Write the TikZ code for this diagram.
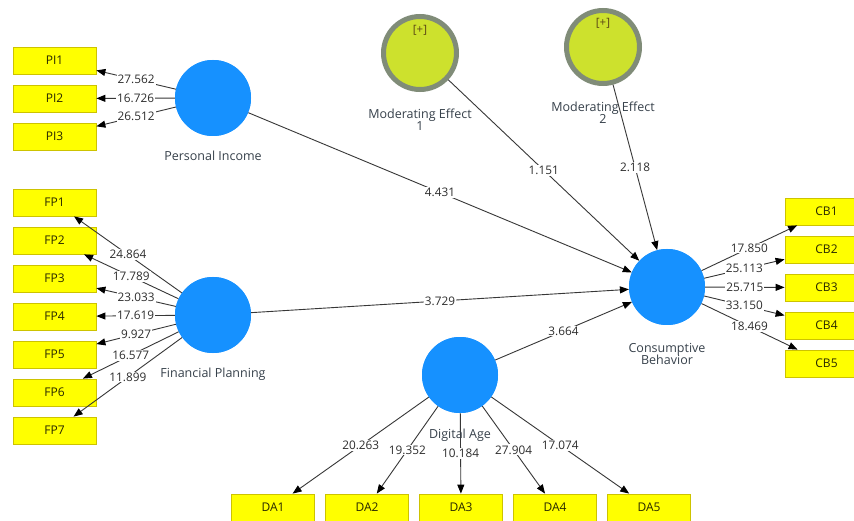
\documentclass[tikz,border=0pt]{standalone}
\usepackage{fontspec}
\setmainfont{Open Sans}
\usetikzlibrary{arrows.meta}
\definecolor{lvblue}{RGB}{22,145,255}
\definecolor{boxyellow}{RGB}{255,255,0}
\definecolor{boxedge}{RGB}{205,195,0}
\definecolor{modfill}{RGB}{205,225,45}
\definecolor{modring}{RGB}{128,140,120}
\definecolor{linegray}{RGB}{55,55,55}
\definecolor{labtext}{RGB}{55,65,75}
\definecolor{valtext}{RGB}{45,45,45}
\definecolor{indtext}{RGB}{40,40,0}
\definecolor{plustext}{RGB}{90,70,20}
\begin{document}
\begin{tikzpicture}[x=1pt,y=-1pt,
  lv/.style={circle,fill=lvblue,minimum size=76pt,inner sep=0pt},
  mod/.style={circle,fill=modfill,draw=modring,line width=5pt,minimum size=73pt,inner sep=0pt},
  ind/.style={rectangle,fill=boxyellow,draw=boxedge,line width=0.8pt,minimum width=83pt,minimum height=27pt,inner sep=0pt,font=\fontsize{12}{14}\selectfont,text=indtext},
  pth/.style={draw=linegray,line width=0.9pt,-{Triangle[length=9pt,width=7pt,color=black]}},
  val/.style={fill=white,inner sep=1pt,font=\fontsize{11.8}{14}\selectfont,text=valtext},
  lvname/.style={font=\fontsize{12.5}{14}\selectfont,text=labtext,align=center},
  plus/.style={font=\fontsize{11.5}{13}\selectfont,text=plustext},
]
\useasboundingbox (0,0) rectangle (854,521);
\clip (0,0) rectangle (854,521);
\fill[white] (0,0) rectangle (854,521);

% latent variables
\node[lv] (pi) at (213,98) {};
\node[lv] (fp) at (213,315) {};
\node[lv] (da) at (460,375) {};
\node[lv] (cb) at (667,287) {};
\node[mod] (me1) at (420,53) {};
\node[mod] (me2) at (603,47) {};

% indicators
\node[ind] (pi1) at (54.5,60.5) {PI1};
\node[ind] (pi2) at (54.5,98.5) {PI2};
\node[ind] (pi3) at (54.5,136.5) {PI3};
\foreach \i/\y in {1/202.5,2/240.5,3/278.5,4/316.5,5/354.5,6/392.5,7/430.5}
  \node[ind] (fp\i) at (54.5,\y) {FP\i};
\foreach \i/\y in {1/211.5,2/249.5,3/287.5,4/325.5,5/363.5}
  \node[ind] (cb\i) at (826.5,\y) {CB\i};
\foreach \i/\x in {1/273,2/367,3/461,4/555,5/649}
  \node[ind] (da\i) at (\x,507.5) {DA\i};

% outer loadings
\draw[pth] (pi) -- node[val] {27.562} (pi1);
\draw[pth] (pi) -- node[val] {16.726} (pi2);
\draw[pth] (pi) -- node[val] {26.512} (pi3);

\draw[pth] (fp) -- node[val] {24.864} (fp1);
\draw[pth] (fp) -- node[val] {17.789} (fp2);
\draw[pth] (fp) -- node[val] {23.033} (fp3);
\draw[pth] (fp) -- node[val] {17.619} (fp4);
\draw[pth] (fp) -- node[val] {9.927} (fp5);
\draw[pth] (fp) -- node[val] {16.577} (fp6);
\draw[pth] (fp) -- node[val] {11.899} (fp7);

\draw[pth] (cb) -- node[val] {17.850} (cb1);
\draw[pth] (cb) -- node[val] {25.113} (cb2);
\draw[pth] (cb) -- node[val] {25.715} (cb3);
\draw[pth] (cb) -- node[val] {33.150} (cb4);
\draw[pth] (cb) -- node[val] {18.469} (cb5);

\draw[pth] (da) -- node[val] {20.263} (da1);
\draw[pth] (da) -- node[val] {19.352} (da2);
\draw[pth] (da) -- node[val] {10.184} (da3);
\draw[pth] (da) -- node[val] {27.904} (da4);
\draw[pth] (da) -- node[val] {17.074} (da5);

% inner paths
\draw[pth] (pi) -- node[val] {4.431} (cb);
\draw[pth] (fp) -- node[val] {3.729} (cb);
\draw[pth] (da) -- node[val] {3.664} (cb);
\draw[pth] (me1) -- node[val] {1.151} (cb);
\draw[pth] (me2) -- node[val] {2.118} (cb);

% redraw circles on top of line starts
\node[lv] at (pi) {};
\node[lv] at (fp) {};
\node[lv] at (da) {};
\node[lv] at (cb) {};

% names
\node[lvname] (piname) at (213,156) {Personal Income};
\node[lvname] (fpname) at (213,374) {Financial Planning};
\node[lvname] (daname) at (460,435) {Digital Age};
\node[lvname] (cbname) at (667,354) {Consumptive\\[-2pt]Behavior};
\node[lvname] (me1name) at (420,120) {Moderating Effect\\[-2pt]1};
\node[lvname] (me2name) at (603,113) {Moderating Effect\\[-2pt]2};
\node[plus] (me1plus) at (420,30) {[+]};
\node[plus] (me2plus) at (603,23) {[+]};
\end{tikzpicture}
\end{document}
